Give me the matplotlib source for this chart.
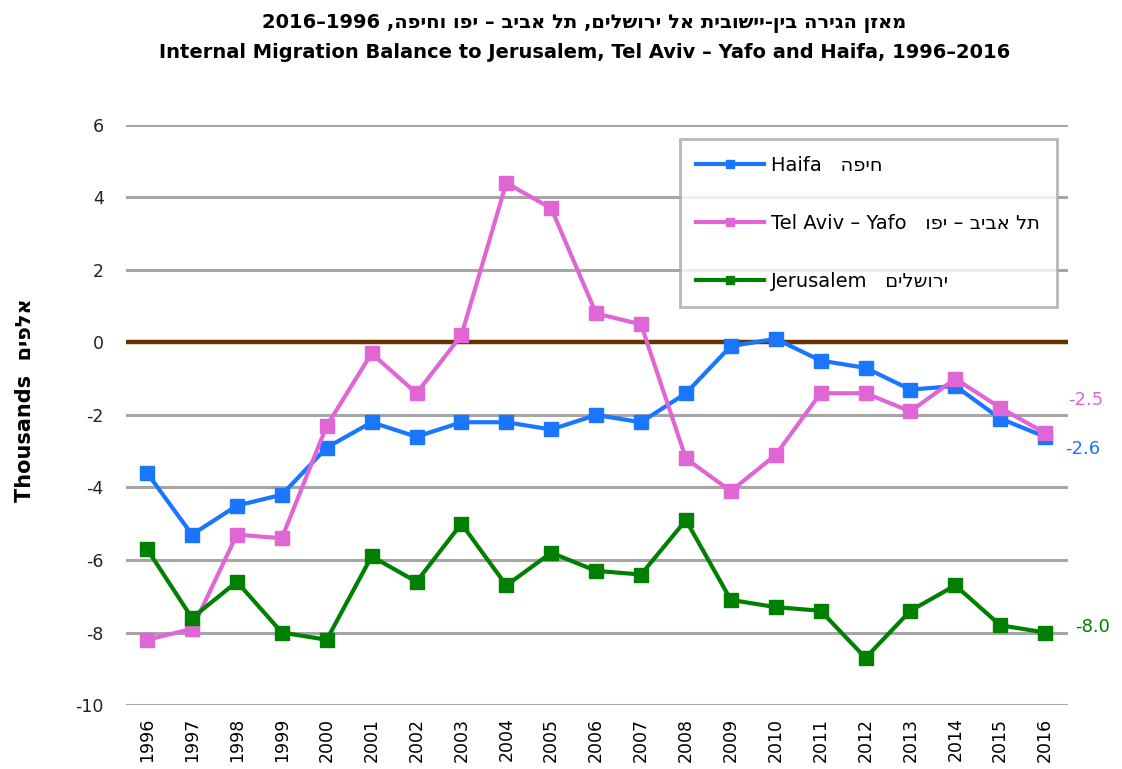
import re
import matplotlib
matplotlib.use("Agg")
import matplotlib.pyplot as plt

years = list(range(1996, 2017))
haifa = [-3.6, -5.3, -4.5, -4.2, -2.9, -2.2, -2.6, -2.2, -2.2, -2.4, -2.0,
         -2.2, -1.4, -0.1, 0.1, -0.5, -0.7, -1.3, -1.2, -2.1, -2.6]
telaviv = [-8.2, -7.9, -5.3, -5.4, -2.3, -0.3, -1.4, 0.2, 4.4, 3.7, 0.8,
           0.5, -3.2, -4.1, -3.1, -1.4, -1.4, -1.9, -1.0, -1.8, -2.5]
jerusalem = [-5.7, -7.6, -6.6, -8.0, -8.2, -5.9, -6.6, -5.0, -6.7, -5.8, -6.3,
             -6.4, -4.9, -7.1, -7.3, -7.4, -8.7, -7.4, -6.7, -7.8, -8.0]
yticks = [6, 4, 2, 0, -2, -4, -6, -8, -10]


def heb(s):
    # matplotlib has no bidi: flip the string, then flip latin/digit runs back
    r = s[::-1]
    return re.sub(r"[0-9A-Za-z.]+", lambda m: m.group(0)[::-1], r)


plt.rcParams['font.family'] = ['DejaVu Sans']
plt.rcParams['axes.unicode_minus'] = False

fig = plt.figure(figsize=(11.22, 7.69), dpi=100)
ax = fig.add_axes([0.1123, 0.0832, 0.8396, 0.7543])

blue = "#1a75ff"
pink = "#e066d6"
green = "#008000"

ax.set_ylim(-10, 6)
ax.set_xlim(1995.53, 2016.51)
ax.set_yticks(yticks)
ax.yaxis.grid(True, color="#a6a6a6", lw=2.2)
ax.axhline(0, color="#663300", lw=3.2, zorder=2)
ax.set_axisbelow(True)
for s in ax.spines.values():
    s.set_visible(False)
ax.tick_params(length=0)
ax.tick_params(axis="y", labelsize=12.5, pad=16, colors="#222222")
ax.set_xticks(years)
ax.set_xticklabels([str(y) for y in years], rotation=90, fontsize=12.5)
ax.tick_params(axis="x", pad=9)

kw = dict(marker="s", markersize=10, lw=3, zorder=3)
ax.plot(years, haifa, color=blue, label="Haifa   " + heb("חיפה"), **kw)
ax.plot(years, telaviv, color=pink, label="Tel Aviv – Yafo   " + heb("תל אביב – יפו"), **kw)
ax.plot(years, jerusalem, color=green, label="Jerusalem   " + heb("ירושלים"), **kw)

leg = ax.legend(loc="upper left", bbox_to_anchor=(0.588, 0.975), fontsize=14,
                frameon=True, fancybox=False, edgecolor="#a6a6a6",
                handlelength=3.5, handletextpad=0.35, labelspacing=2.0,
                borderpad=0.85, markerscale=0.6, borderaxespad=0)
leg.get_frame().set_linewidth(2)

ax.annotate("-2.5", (years[-1], telaviv[-1]), xytext=(23, 33), textcoords="offset pixels",
            color=pink, fontsize=13, ha="left", va="center")
ax.annotate("-2.6", (years[-1], haifa[-1]), xytext=(20, -12), textcoords="offset pixels",
            color=blue, fontsize=13, ha="left", va="center")
ax.annotate("-8.0", (years[-1], jerusalem[-1]), xytext=(30, 6), textcoords="offset pixels",
            color=green, fontsize=13, ha="left", va="center")

fig.text(0.022, 0.48, "Thousands  " + heb("אלפים"), rotation=90, fontsize=15,
         fontweight="bold", ha="center", va="center")

title_he = heb("מאזן הגירה בין-יישובית אל ירושלים, תל אביב – יפו וחיפה, 1996–2016")
title_en = "Internal Migration Balance to Jerusalem, Tel Aviv – Yafo and Haifa, 1996–2016"
fig.text(0.521, 0.970, title_he, fontsize=14, fontweight="bold", ha="center", va="center")
fig.text(0.521, 0.932, title_en, fontsize=14, fontweight="bold", ha="center", va="center")

fig.savefig("out.png", dpi=100)
